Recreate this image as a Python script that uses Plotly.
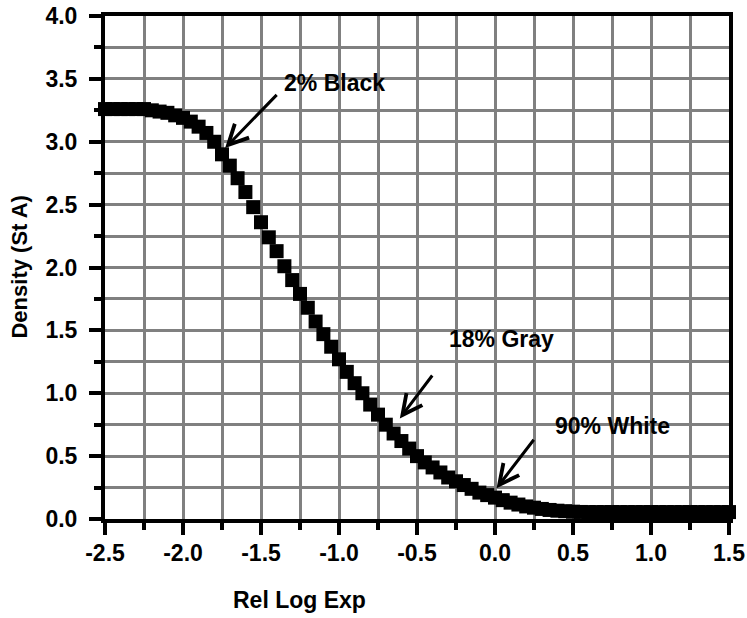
import plotly.graph_objects as go

# ---- data ----
rel_log_exp = [
    -2.50, -2.45, -2.40, -2.35, -2.30, -2.25, -2.20, -2.15, -2.10, -2.05,
    -2.00, -1.95, -1.90, -1.85, -1.80, -1.75, -1.70, -1.65, -1.60, -1.55,
    -1.50, -1.45, -1.40, -1.35, -1.30, -1.25, -1.20, -1.15, -1.10, -1.05,
    -1.00, -0.95, -0.90, -0.85, -0.80, -0.75, -0.70, -0.65, -0.60, -0.55,
    -0.50, -0.45, -0.40, -0.35, -0.30, -0.25, -0.20, -0.15, -0.10, -0.05,
    0.00, 0.05, 0.10, 0.15, 0.20, 0.25, 0.30, 0.35, 0.40, 0.45,
    0.50, 0.55, 0.60, 0.65, 0.70, 0.75, 0.80, 0.85, 0.90, 0.95,
    1.00, 1.05, 1.10, 1.15, 1.20, 1.25, 1.30, 1.35, 1.40, 1.45, 1.50,
]
density = [
    3.26, 3.26, 3.26, 3.26, 3.26, 3.26, 3.25, 3.24, 3.23, 3.21,
    3.19, 3.16, 3.12, 3.07, 3.00, 2.90, 2.81, 2.71, 2.60, 2.48,
    2.36, 2.24, 2.13, 2.01, 1.90, 1.79, 1.68, 1.57, 1.47, 1.37,
    1.27, 1.17, 1.08, 1.00, 0.91, 0.83, 0.75, 0.68, 0.62, 0.56,
    0.50, 0.45, 0.41, 0.37, 0.33, 0.30, 0.27, 0.24, 0.21, 0.19,
    0.17, 0.15, 0.13, 0.115, 0.10, 0.09, 0.08, 0.072, 0.066, 0.062,
    0.058, 0.056, 0.055, 0.055, 0.055, 0.055, 0.055, 0.055, 0.055, 0.055,
    0.055, 0.055, 0.055, 0.055, 0.055, 0.055, 0.055, 0.055, 0.055, 0.055, 0.055,
]
x_tick_vals = [-2.5, -2.0, -1.5, -1.0, -0.5, 0.0, 0.5, 1.0, 1.5]
x_tick_text = ["-2.5", "-2.0", "-1.5", "-1.0", "-0.5", "0.0", "0.5", "1.0", "1.5"]
y_tick_vals = [0.0, 0.5, 1.0, 1.5, 2.0, 2.5, 3.0, 3.5, 4.0]
y_tick_text = ["0.0", "0.5", "1.0", "1.5", "2.0", "2.5", "3.0", "3.5", "4.0"]

# annotations: label, arrow tip (x, y), arrow tail (x, y), label position (x, y)
labels = ["2% Black", "18% Gray", "90% White"]
tip_x = [-1.73, -0.61, 0.01]
tip_y = [2.95, 0.80, 0.245]
tail_x = [-1.39, -0.395, 0.256]
tail_y = [3.385, 1.153, 0.642]
label_x = [-1.026, 0.042, 0.75]
label_y = [3.467, 1.431, 0.736]

FONT = "Liberation Sans, Arial, sans-serif"

fig = go.Figure()
fig.add_trace(go.Scatter(
    x=rel_log_exp, y=density, mode="markers",
    marker=dict(symbol="square", size=14, color="black", line=dict(width=0)),
    cliponaxis=False, showlegend=False,
))

for i in range(len(labels)):
    fig.add_annotation(
        x=tip_x[i], y=tip_y[i], ax=tail_x[i], ay=tail_y[i],
        xref="x", yref="y", axref="x", ayref="y",
        text="", showarrow=True, arrowhead=5, arrowsize=1.3,
        arrowwidth=3, arrowcolor="black", standoff=0, startstandoff=0,
    )
    fig.add_annotation(
        x=label_x[i], y=label_y[i], xref="x", yref="y",
        text=labels[i], showarrow=False,
        font=dict(family=FONT, size=23, color="black", weight="bold"),
        xanchor="center", yanchor="middle",
    )

fig.add_annotation(
    x=-0.1378, y=0.5, xref="paper", yref="paper", text="Density (St A)",
    textangle=-90, showarrow=False, xanchor="center", yanchor="middle",
    font=dict(family=FONT, size=22, color="black", weight="bold"),
)
fig.add_annotation(
    x=0.311, y=-0.161, xref="paper", yref="paper", text="Rel Log Exp",
    showarrow=False, xanchor="center", yanchor="middle",
    font=dict(family=FONT, size=23, color="black", weight="bold"),
)

axis_common = dict(
    showline=True, linecolor="black", linewidth=4, mirror=True,
    ticks="outside", ticklen=12, tickwidth=4, tickcolor="black",
    showgrid=True, gridcolor="#808080", gridwidth=3,
    zeroline=False, tickmode="array", automargin=False,
    tickfont=dict(family=FONT, size=23, color="black", weight="bold"),
    minor=dict(tickmode="linear", tick0=0, dtick=0.25, ticks="outside", ticklen=7,
               tickwidth=4, tickcolor="black", showgrid=True,
               gridcolor="#808080", gridwidth=3),
)

fig.update_xaxes(range=[-2.5, 1.5], tickvals=x_tick_vals, ticktext=x_tick_text,
                 ticklabelstandoff=-2, **axis_common)
fig.update_yaxes(range=[0, 4], tickvals=y_tick_vals, ticktext=y_tick_text,
                 ticklabelstandoff=7, **axis_common)

fig.update_layout(
    width=747, height=618,
    margin=dict(l=105, r=18, t=16, b=99),
    plot_bgcolor="white", paper_bgcolor="white",
    font=dict(family=FONT, color="black"),
)

fig.write_html("out.html")
